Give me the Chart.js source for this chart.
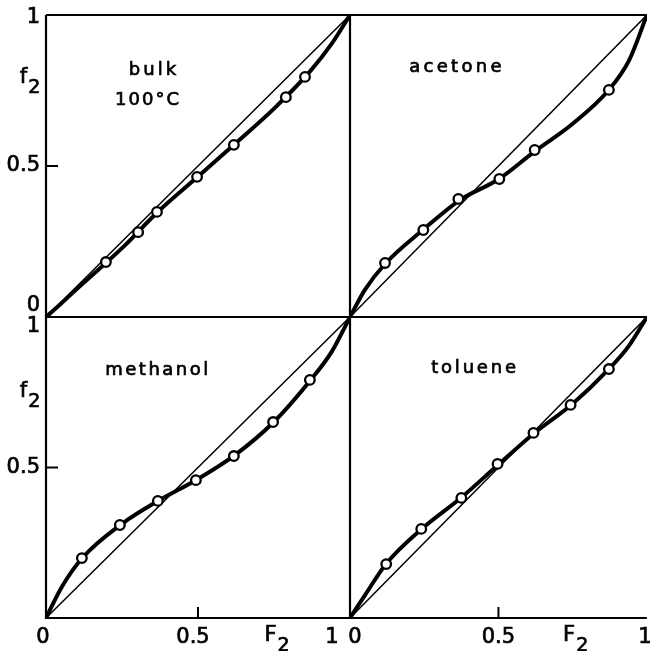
<!DOCTYPE html>
<html>
<head>
<meta charset="utf-8">
<script src="https://cdn.jsdelivr.net/npm/chart.js@4"></script>
<style>
  html, body { margin: 0; padding: 0; background: #fff; }
  #wrap { position: relative; width: 654px; height: 651px; overflow: hidden; }
  #wrap canvas { position: absolute; left: 0; top: 0; }
</style>
</head>
<body>
<div id="wrap">
  <canvas id="bulk" width="654" height="651"></canvas>
  <canvas id="acetone" width="654" height="651"></canvas>
  <canvas id="methanol" width="654" height="651"></canvas>
  <canvas id="toluene" width="654" height="651"></canvas>
</div>
<script>
// tick values / labels shared by all panels
const tickValues = [0, 0.5, 1];
const tickLabels = ['0', '0.5', '1'];

// measured points (F2 = feed, f2 = copolymer)
const bulkF2 = [0.197, 0.303, 0.365, 0.497, 0.618, 0.789, 0.852];
const bulkf2 = [0.182, 0.281, 0.348, 0.464, 0.570, 0.728, 0.795];
const acetoneF2 = [0.118, 0.247, 0.365, 0.503, 0.622, 0.872];
const acetonef2 = [0.179, 0.288, 0.391, 0.457, 0.553, 0.752];
const methanolF2 = [0.118, 0.243, 0.368, 0.493, 0.618, 0.747, 0.868];
const methanolf2 = [0.199, 0.309, 0.389, 0.458, 0.538, 0.651, 0.791];
const tolueneF2 = [0.122, 0.240, 0.375, 0.497, 0.618, 0.743, 0.872];
const toluenef2 = [0.179, 0.296, 0.399, 0.512, 0.615, 0.708, 0.827];

// fitted curves
const curveF2 = [0, 0.05, 0.12, 0.25, 0.37, 0.5, 0.62, 0.75, 0.87, 0.94, 1];
const bulkCurve = [0, 0.045, 0.11, 0.228, 0.35, 0.465, 0.572, 0.69, 0.815, 0.905, 1];
const acetoneCurve = [0, 0.09, 0.178, 0.292, 0.387, 0.456, 0.547, 0.64, 0.75, 0.85, 1];
const methanolCurve = [0, 0.10, 0.2, 0.313, 0.39, 0.462, 0.54, 0.652, 0.79, 0.885, 1];
const tolueneCurve = [0, 0.075, 0.178, 0.303, 0.396, 0.51, 0.614, 0.712, 0.825, 0.905, 1];

const diagonal = [0, 1];

const FONT = '"DejaVu Sans", "Liberation Sans", sans-serif';

function pts(xs, ys) {
  return xs.map((x, i) => ({ x: x, y: ys[i] }));
}

function text(ctx, s, x, y, size, align, spacing) {
  ctx.font = size + 'px ' + FONT;
  ctx.textAlign = align || 'center';
  ctx.textBaseline = 'middle';
  ctx.letterSpacing = (spacing || 0) + 'px';
  ctx.lineWidth = 0.7;
  ctx.fillText(s, x, y);
  ctx.strokeText(s, x, y);
  ctx.letterSpacing = '0px';
}

// letter with a subscript 2, centred on x
function subLabel(ctx, main, x, y) {
  ctx.font = '21px ' + FONT;
  const w1 = ctx.measureText(main).width;
  ctx.font = '19px ' + FONT;
  const w2 = ctx.measureText('2').width;
  const left = x - (w1 + w2 + 1) / 2;
  text(ctx, main, left, y - 4, 21, 'left');
  text(ctx, '2', left + w1 + 1, y + 6, 19, 'left');
}

const panelDecor = {
  id: 'panelDecor',
  afterDraw(chart) {
    const o = chart.options.plugins.panelDecor;
    const ctx = chart.ctx;
    const a = chart.chartArea;
    const sx = chart.scales.x, sy = chart.scales.y;
    ctx.save();
    ctx.strokeStyle = '#000';
    ctx.fillStyle = '#000';
    ctx.lineWidth = 2.2;
    ctx.beginPath();
    ctx.moveTo(a.left, a.top);
    ctx.lineTo(a.right, a.top);
    ctx.moveTo(a.left, a.top);
    ctx.lineTo(a.left, a.bottom);
    ctx.lineTo(a.right, a.bottom);
    ctx.stroke();

    if (o.yTicks) {
      const yp = sy.getPixelForValue(0.5);
      ctx.lineWidth = 2;
      ctx.beginPath();
      ctx.moveTo(a.left, yp);
      ctx.lineTo(a.left + 12, yp);
      ctx.stroke();
      o.yTicks.forEach(t => {
        const i = tickValues.indexOf(t[0]);
        text(ctx, tickLabels[i], a.left - 6, sy.getPixelForValue(t[0]) + t[1], 21, 'right');
      });
      subLabel(ctx, 'f', a.left - 16, a.top + o.fY);
    }
    if (o.xTicks) {
      const xp = sx.getPixelForValue(0.5);
      ctx.lineWidth = 2;
      ctx.beginPath();
      ctx.moveTo(xp, a.bottom);
      ctx.lineTo(xp, a.bottom - 11);
      ctx.stroke();
      o.xTicks.forEach(t => {
        const i = tickValues.indexOf(t[0]);
        text(ctx, tickLabels[i], sx.getPixelForValue(t[0]) + t[1], a.bottom + 20, 21, 'center');
      });
      subLabel(ctx, 'F', sx.getPixelForValue(0.76), a.bottom + 22);
    }
    o.label.forEach(l => {
      text(ctx, l[0], a.left + l[1], a.top + l[2], 18, 'center', l[3]);
    });
    ctx.restore();
  }
};

function makePanel(id, box, dataX, dataY, curveY, decor) {
  const ctx = document.getElementById(id).getContext('2d');
  new Chart(ctx, {
    type: 'scatter',
    data: {
      datasets: [
        {
          data: pts(dataX, dataY),
          pointRadius: 4.8,
          pointBackgroundColor: '#fff',
          pointBorderColor: '#000',
          pointBorderWidth: 2.3,
          showLine: false,
          order: 0
        },
        {
          data: pts(curveF2, curveY),
          showLine: true,
          borderColor: '#000',
          borderWidth: 4,
          pointRadius: 0,
          cubicInterpolationMode: 'monotone',
          order: 1
        },
        {
          data: pts(diagonal, diagonal),
          showLine: true,
          borderColor: '#000',
          borderWidth: 1.5,
          pointRadius: 0,
          order: 2
        }
      ]
    },
    options: {
      responsive: false,
      animation: false,
      layout: { padding: { left: box[0], top: box[1], right: 654 - box[2], bottom: 651 - box[3] } },
      scales: {
        x: { type: 'linear', min: 0, max: 1, display: false },
        y: { type: 'linear', min: 0, max: 1, display: false }
      },
      plugins: {
        legend: { display: false },
        tooltip: { enabled: false },
        panelDecor: decor
      }
    },
    plugins: [panelDecor]
  });
}

makePanel('bulk', [46, 15, 350, 317], bulkF2, bulkf2, bulkCurve, {
  yTicks: [[1, 3], [0.5, 0], [0, -11]],
  fY: 67,
  label: [['bulk', 108, 55, 3], ['100°C', 102, 85, 2]]
});
makePanel('acetone', [350, 15, 654, 317], acetoneF2, acetonef2, acetoneCurve, {
  label: [['acetone', 107, 52, 3.3]]
});
makePanel('methanol', [46, 317, 350, 618], methanolF2, methanolf2, methanolCurve, {
  yTicks: [[1, 10], [0.5, 0]],
  fY: 79,
  xTicks: [[0, -3], [0.5, -5], [1, -18]],
  label: [['methanol', 112, 53, 2.5]]
});
makePanel('toluene', [350, 317, 654, 618], tolueneF2, toluenef2, tolueneCurve, {
  xTicks: [[0, 5], [0.5, 0], [1, -2]],
  label: [['toluene', 125, 51, 2.8]]
});
</script>
</body>
</html>
